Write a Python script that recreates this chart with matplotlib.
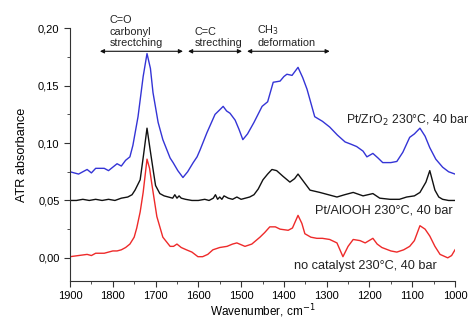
import matplotlib
matplotlib.use("Agg")
import matplotlib.pyplot as plt
from matplotlib.ticker import MultipleLocator, FuncFormatter

plt.rcParams["font.family"] = ["Liberation Sans", "DejaVu Sans"]

# Pt/ZrO2 (blue)
zr_wn = [1900, 1890, 1880, 1870, 1860, 1850, 1840, 1830, 1820, 1810, 1800, 1790, 1780, 1770,
         1760, 1753, 1741, 1729, 1720, 1712, 1706, 1694, 1683, 1666, 1659, 1648, 1636, 1625,
         1612, 1603, 1596, 1580, 1561, 1550, 1542, 1534, 1526, 1514, 1505, 1496, 1485, 1470,
         1451, 1438, 1425, 1409, 1400, 1393, 1381, 1375, 1367, 1356, 1346, 1328, 1310, 1293,
         1275, 1257, 1243, 1230, 1215, 1206, 1192, 1180, 1169, 1150, 1136, 1122, 1106, 1095,
         1082, 1070, 1059, 1045, 1029, 1015, 1000]
zr_ab = [0.075, 0.074, 0.073, 0.075, 0.077, 0.074, 0.078, 0.078, 0.078, 0.076, 0.079, 0.082, 0.080, 0.085,
         0.088, 0.098, 0.123, 0.158, 0.178, 0.165, 0.144, 0.118, 0.103, 0.087, 0.083, 0.076, 0.070, 0.075,
         0.083, 0.088, 0.094, 0.109, 0.125, 0.129, 0.132, 0.128, 0.126, 0.120, 0.112, 0.103, 0.108, 0.118,
         0.132, 0.136, 0.153, 0.154, 0.158, 0.160, 0.159, 0.162, 0.166, 0.157, 0.147, 0.123, 0.119, 0.114,
         0.107, 0.101, 0.099, 0.097, 0.093, 0.088, 0.091, 0.087, 0.083, 0.083, 0.084, 0.092, 0.105, 0.108,
         0.113, 0.106, 0.096, 0.086, 0.079, 0.075, 0.073]

# Pt/AlOOH (black)
al_wn = [1900, 1885, 1870, 1855, 1840, 1825, 1810, 1795, 1780, 1765, 1755, 1748, 1736, 1728, 1720,
         1713, 1705, 1700, 1690, 1680, 1670, 1660, 1655, 1650, 1645, 1640, 1630, 1615, 1600, 1585,
         1575, 1565, 1560, 1555, 1550, 1545, 1540, 1530, 1520, 1510, 1500, 1490, 1480, 1470, 1460,
         1449, 1438, 1428, 1417, 1402, 1386, 1375, 1367, 1351, 1339, 1316, 1296, 1276, 1258, 1238,
         1215, 1192, 1176, 1152, 1130, 1113, 1095, 1082, 1068, 1059, 1047, 1038, 1029, 1015, 1000]
al_ab = [0.050, 0.050, 0.051, 0.050, 0.051, 0.050, 0.051, 0.050, 0.052, 0.053, 0.055, 0.059, 0.068, 0.090, 0.113,
         0.095, 0.075, 0.063, 0.056, 0.054, 0.053, 0.052, 0.055, 0.052, 0.054, 0.052, 0.051, 0.050, 0.050, 0.051,
         0.050, 0.052, 0.055, 0.051, 0.053, 0.051, 0.054, 0.052, 0.051, 0.053, 0.051, 0.052, 0.053, 0.055, 0.060,
         0.068, 0.073, 0.077, 0.076, 0.071, 0.066, 0.069, 0.073, 0.065, 0.059, 0.057, 0.055, 0.053, 0.055, 0.057,
         0.054, 0.056, 0.052, 0.051, 0.051, 0.053, 0.054, 0.057, 0.066, 0.076, 0.059, 0.053, 0.051, 0.050, 0.050]

# no catalyst (red)
nc_wn = [1900, 1880, 1860, 1850, 1840, 1820, 1810, 1800, 1790, 1780, 1770, 1760, 1750, 1744, 1736,
         1729, 1720, 1714, 1709, 1697, 1683, 1666, 1658, 1650, 1640, 1628, 1615, 1601, 1590, 1578,
         1566, 1550, 1533, 1520, 1510, 1491, 1475, 1456, 1445, 1433, 1420, 1409, 1390, 1380, 1367,
         1358, 1351, 1337, 1323, 1310, 1293, 1276, 1262, 1250, 1238, 1222, 1210, 1192, 1182, 1171,
         1150, 1136, 1120, 1106, 1095, 1082, 1070, 1059, 1047, 1035, 1017, 1008, 1000]
nc_ab = [0.001, 0.002, 0.003, 0.002, 0.004, 0.004, 0.005, 0.006, 0.006, 0.007, 0.009, 0.012, 0.018, 0.026, 0.040,
         0.057, 0.086, 0.078, 0.065, 0.036, 0.018, 0.010, 0.010, 0.012, 0.009, 0.007, 0.005, 0.001, 0.001, 0.003,
         0.007, 0.009, 0.010, 0.012, 0.013, 0.010, 0.012, 0.018, 0.022, 0.027, 0.027, 0.025, 0.024, 0.026, 0.037,
         0.030, 0.021, 0.018, 0.017, 0.017, 0.016, 0.013, 0.001, 0.010, 0.016, 0.015, 0.013, 0.017, 0.012, 0.009,
         0.006, 0.005, 0.007, 0.010, 0.015, 0.028, 0.025, 0.019, 0.010, 0.003, 0.000, 0.002, 0.007]

series_labels = ["Pt/ZrO$_2$ 230°C, 40 bar", "Pt/AlOOH 230°C, 40 bar", "no catalyst 230°C, 40 bar"]
regions = [("C=O\ncarbonyl\nstrectching", 1830, 1636),
           ("C=C\nstrecthing", 1624, 1498),
           ("CH$_3$\ndeformation", 1486, 1293)]

fig = plt.figure(figsize=(4.73, 3.22), dpi=100)
ax = fig.add_axes([0.148, 0.128, 0.814, 0.784])

ax.plot(zr_wn, zr_ab, color="#3434d6", lw=1.0)
ax.plot(al_wn, al_ab, color="#111111", lw=1.0)
ax.plot(nc_wn, nc_ab, color="#ee2a2a", lw=1.0)

ax.set_xlim(1900, 1000)
ax.set_ylim(-0.02, 0.20)
ax.xaxis.set_major_locator(MultipleLocator(100))
ax.xaxis.set_minor_locator(MultipleLocator(50))
ax.yaxis.set_major_locator(MultipleLocator(0.05))
ax.yaxis.set_minor_locator(MultipleLocator(0.025))
ax.yaxis.set_major_formatter(FuncFormatter(lambda v, p: f"{v:.2f}".replace(".", ",").replace("-0,00", "0,00")))
ax.tick_params(which="both", direction="out", labelsize=8, color="#333333")
ax.tick_params(which="major", length=4)
ax.tick_params(which="minor", length=2.5)
for s in ("top", "right"):
    ax.spines[s].set_visible(False)
for s in ("left", "bottom"):
    ax.spines[s].set_color("#333333")
    ax.spines[s].set_linewidth(0.8)

ax.set_xlabel("Wavenumber, cm$^{-1}$", fontsize=8.5, labelpad=1)
ax.set_ylabel("ATR absorbance", fontsize=9.2, labelpad=7)

for txt, x0, x1 in regions:
    ax.annotate("", xy=(x1, 0.180), xytext=(x0, 0.180),
                arrowprops=dict(arrowstyle="<|-|>", color="#111111", lw=0.8,
                                mutation_scale=6, shrinkA=0, shrinkB=0))
    ax.text(x0 + (x1 - x0) * 0.12, 0.183, txt, fontsize=7.8, ha="left", va="bottom",
            linespacing=1.15, color="#222222")

ax.text(1255, 0.120, series_labels[0], fontsize=8.8, ha="left", va="center", color="#222222")
ax.text(1005, 0.041, series_labels[1], fontsize=9.2, ha="right", va="center", color="#222222")
ax.text(1042, -0.007, series_labels[2], fontsize=9.2, ha="right", va="center", color="#222222")

fig.savefig("out.png", dpi=100)
